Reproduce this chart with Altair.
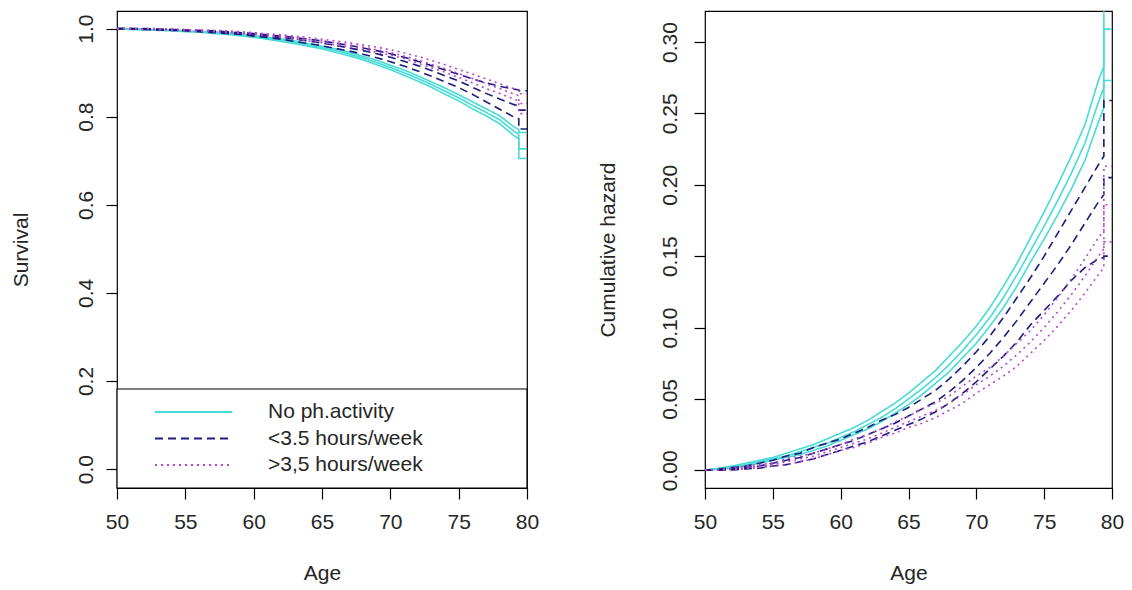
import altair as alt
import pandas as pd

# Age grid (years); 79.4 appears twice so the final jump is drawn as a vertical step
AGES = [50, 51, 52, 53, 54, 55, 56, 57, 58, 59, 60, 61, 62, 63, 64, 65, 66, 67,
        68, 69, 70, 71, 72, 73, 74, 75, 76, 77, 78, 79, 79.4, 79.4, 80]

GROUPS = ["No ph.activity", "<3.5 hours/week", ">3,5 hours/week"]
COLORS = ["#46dcd6", "#1c1c7e", "#bb44cc"]
DASHES = [[1, 0], [8, 5], [2, 4]]

# Survival: estimate with lower / upper confidence limits
surv_none_est = [1.000, 0.999, 0.998, 0.997, 0.996, 0.994, 0.993, 0.991, 0.989, 0.986, 0.982,
                 0.978, 0.974, 0.969, 0.963, 0.957, 0.950, 0.942, 0.933, 0.923, 0.912, 0.900,
                 0.887, 0.873, 0.858, 0.843, 0.826, 0.810, 0.793, 0.768, 0.760, 0.727, 0.727]
surv_none_lo = [1.000, 0.998, 0.997, 0.996, 0.995, 0.993, 0.992, 0.989, 0.987, 0.984, 0.980,
                0.976, 0.971, 0.966, 0.960, 0.954, 0.946, 0.938, 0.929, 0.918, 0.907, 0.894,
                0.881, 0.867, 0.851, 0.836, 0.818, 0.802, 0.784, 0.758, 0.750, 0.705, 0.705]
surv_none_hi = [1.000, 1.000, 0.999, 0.998, 0.997, 0.995, 0.994, 0.993, 0.991, 0.988, 0.984,
                0.980, 0.977, 0.972, 0.966, 0.960, 0.954, 0.946, 0.937, 0.928, 0.917, 0.906,
                0.893, 0.879, 0.865, 0.850, 0.834, 0.818, 0.802, 0.778, 0.771, 0.764, 0.764]

surv_low_est = [1.000, 1.000, 0.999, 0.998, 0.997, 0.996, 0.994, 0.993, 0.991, 0.989, 0.986,
                0.983, 0.980, 0.976, 0.972, 0.967, 0.962, 0.956, 0.950, 0.943, 0.935, 0.926,
                0.916, 0.905, 0.893, 0.881, 0.867, 0.853, 0.840, 0.828, 0.824, 0.815, 0.815]
surv_low_lo = [1.000, 0.999, 0.998, 0.997, 0.996, 0.995, 0.993, 0.991, 0.989, 0.987, 0.983,
               0.980, 0.976, 0.971, 0.966, 0.961, 0.955, 0.949, 0.942, 0.934, 0.925, 0.915,
               0.904, 0.892, 0.879, 0.866, 0.851, 0.834, 0.817, 0.800, 0.795, 0.772, 0.772]
surv_low_hi = [1.000, 1.000, 1.000, 0.999, 0.998, 0.997, 0.996, 0.995, 0.993, 0.991, 0.989,
               0.986, 0.983, 0.980, 0.976, 0.972, 0.967, 0.962, 0.956, 0.950, 0.943, 0.935,
               0.926, 0.916, 0.906, 0.896, 0.886, 0.877, 0.869, 0.863, 0.861, 0.859, 0.859]

surv_high_est = [1.000, 1.000, 0.999, 0.999, 0.998, 0.997, 0.996, 0.995, 0.993, 0.991, 0.989,
                 0.986, 0.983, 0.980, 0.976, 0.972, 0.968, 0.963, 0.958, 0.952, 0.946, 0.938,
                 0.929, 0.919, 0.909, 0.898, 0.887, 0.875, 0.864, 0.852, 0.848, 0.830, 0.830]
surv_high_lo = [1.000, 0.999, 0.998, 0.997, 0.996, 0.995, 0.994, 0.993, 0.991, 0.989, 0.987,
                0.984, 0.980, 0.977, 0.972, 0.968, 0.963, 0.958, 0.953, 0.946, 0.940, 0.932,
                0.922, 0.911, 0.901, 0.889, 0.877, 0.864, 0.853, 0.840, 0.836, 0.807, 0.807]
surv_high_hi = [1.000, 1.000, 1.000, 1.000, 0.999, 0.998, 0.997, 0.996, 0.995, 0.993, 0.991,
                0.988, 0.986, 0.983, 0.980, 0.976, 0.972, 0.968, 0.963, 0.958, 0.952, 0.945,
                0.937, 0.928, 0.918, 0.907, 0.897, 0.886, 0.875, 0.864, 0.860, 0.852, 0.852]

# Cumulative hazard: estimate with lower / upper confidence limits
hz_none_est = [0.000, 0.001, 0.002, 0.004, 0.006, 0.008, 0.010, 0.013, 0.016, 0.019, 0.023,
               0.027, 0.032, 0.037, 0.043, 0.050, 0.057, 0.065, 0.074, 0.084, 0.095, 0.107,
               0.121, 0.137, 0.154, 0.171, 0.189, 0.208, 0.229, 0.258, 0.268, 0.309, 0.309]
hz_none_lo = [0.000, 0.0005, 0.0015, 0.003, 0.005, 0.007, 0.009, 0.011, 0.014, 0.017, 0.021,
              0.025, 0.029, 0.034, 0.040, 0.046, 0.053, 0.061, 0.069, 0.079, 0.089, 0.101,
              0.114, 0.129, 0.146, 0.162, 0.179, 0.197, 0.217, 0.244, 0.254, 0.273, 0.273]
hz_none_hi = [0.000, 0.0015, 0.003, 0.005, 0.007, 0.009, 0.012, 0.015, 0.018, 0.022, 0.026,
              0.030, 0.035, 0.041, 0.047, 0.054, 0.062, 0.070, 0.080, 0.090, 0.101, 0.114,
              0.129, 0.145, 0.163, 0.181, 0.200, 0.220, 0.242, 0.273, 0.283, 0.345, 0.345]

hz_low_est = [0.000, 0.0003, 0.001, 0.002, 0.003, 0.005, 0.007, 0.009, 0.012, 0.015, 0.018,
              0.021, 0.025, 0.029, 0.033, 0.038, 0.043, 0.048, 0.055, 0.063, 0.072, 0.082,
              0.093, 0.105, 0.118, 0.131, 0.144, 0.158, 0.173, 0.188, 0.193, 0.205, 0.205]
hz_low_lo = [0.000, 0.000, 0.0003, 0.001, 0.0015, 0.003, 0.004, 0.006, 0.008, 0.011, 0.014,
             0.017, 0.020, 0.024, 0.028, 0.032, 0.036, 0.041, 0.047, 0.054, 0.062, 0.071,
             0.080, 0.090, 0.102, 0.112, 0.122, 0.133, 0.142, 0.148, 0.149, 0.150, 0.150]
hz_low_hi = [0.000, 0.0008, 0.002, 0.003, 0.005, 0.007, 0.010, 0.012, 0.016, 0.019, 0.022,
             0.026, 0.030, 0.035, 0.039, 0.044, 0.050, 0.056, 0.064, 0.073, 0.083, 0.094,
             0.107, 0.121, 0.135, 0.150, 0.166, 0.182, 0.198, 0.214, 0.220, 0.259, 0.259]

hz_high_est = [0.000, 0.0003, 0.001, 0.002, 0.003, 0.004, 0.006, 0.008, 0.010, 0.013, 0.016,
               0.019, 0.022, 0.026, 0.030, 0.034, 0.038, 0.042, 0.047, 0.053, 0.060, 0.066,
               0.073, 0.081, 0.090, 0.100, 0.111, 0.123, 0.136, 0.150, 0.155, 0.186, 0.186]
hz_high_lo = [0.000, 0.0001, 0.0005, 0.001, 0.002, 0.003, 0.004, 0.006, 0.008, 0.011, 0.014,
              0.016, 0.019, 0.023, 0.026, 0.030, 0.033, 0.037, 0.042, 0.047, 0.054, 0.060,
              0.066, 0.073, 0.082, 0.091, 0.101, 0.112, 0.124, 0.137, 0.142, 0.160, 0.160]
hz_high_hi = [0.000, 0.0006, 0.0015, 0.003, 0.004, 0.005, 0.008, 0.010, 0.012, 0.015, 0.018,
              0.022, 0.025, 0.029, 0.034, 0.038, 0.043, 0.047, 0.052, 0.059, 0.066, 0.072,
              0.080, 0.089, 0.098, 0.109, 0.121, 0.134, 0.148, 0.163, 0.168, 0.213, 0.213]

FONT = "Liberation Sans"
TEXT = "#262626"


def long_table(series_by_group):
    rows = []
    for group, bands in zip(GROUPS, series_by_group):
        for band, values in zip(["est", "lo", "hi"], bands):
            for idx, (age, v) in enumerate(zip(AGES, values)):
                rows.append({"age": age, "value": v, "group": group,
                             "series": f"{group} {band}", "idx": idx})
    return pd.DataFrame(rows)


surv_df = long_table([
    (surv_none_est, surv_none_lo, surv_none_hi),
    (surv_low_est, surv_low_lo, surv_low_hi),
    (surv_high_est, surv_high_lo, surv_high_hi),
])
hz_df = long_table([
    (hz_none_est, hz_none_lo, hz_none_hi),
    (hz_low_est, hz_low_lo, hz_low_hi),
    (hz_high_est, hz_high_lo, hz_high_hi),
])

color_enc = alt.Color("group:N", scale=alt.Scale(domain=GROUPS, range=COLORS), legend=None)
dash_enc = alt.StrokeDash("group:N", scale=alt.Scale(domain=GROUPS, range=DASHES), legend=None)

x_enc = alt.X(
    "age:Q",
    scale=alt.Scale(domain=[50, 80], nice=False, zero=False),
    axis=alt.Axis(values=[50, 55, 60, 65, 70, 75, 80], format="d", title="Age",
                  labelFlush=False, labelOverlap=False),
)

W_LEFT, W_RIGHT, H = 410, 407, 477

surv_lines = alt.Chart(surv_df).mark_line(strokeWidth=1.6, clip=True).encode(
    x=x_enc,
    y=alt.Y("value:Q", scale=alt.Scale(domain=[-0.043, 1.04], nice=False, zero=False),
            axis=alt.Axis(format=".1f", title="Survival", values=[0, 0.2, 0.4, 0.6, 0.8, 1.0],
                          labelAngle=270, labelAlign="center", labelBaseline="bottom",
                          labelPadding=10, titlePadding=44)),
    color=color_enc,
    strokeDash=dash_enc,
    detail="series:N",
    order="idx:Q",
)

# Legend frame across the lower part of the survival panel
legend_box = alt.Chart(pd.DataFrame({"k": [0]})).mark_rect(
    fill="white", stroke="black", strokeWidth=1.2
).encode(x=alt.value(0), x2=alt.value(W_LEFT), y=alt.value(378), y2=alt.value(H))

legend_layers = []
for i, (g, c, d) in enumerate(zip(GROUPS, COLORS, DASHES)):
    ypos = 401 + i * 26.5
    row = pd.DataFrame({"group": [g]})
    legend_layers.append(
        alt.Chart(row).mark_rule(strokeWidth=2, strokeDash=d, color=c).encode(
            x=alt.value(38), x2=alt.value(115), y=alt.value(ypos))
    )
    legend_layers.append(
        alt.Chart(row).mark_text(align="left", baseline="middle", font=FONT,
                                 fontSize=21, color=TEXT).encode(
            x=alt.value(151), y=alt.value(ypos), text="group:N")
    )

left = alt.layer(surv_lines, legend_box, *legend_layers).properties(width=W_LEFT, height=H)

hz_lines = alt.Chart(hz_df).mark_line(strokeWidth=1.6, clip=True).encode(
    x=x_enc,
    y=alt.Y("value:Q", scale=alt.Scale(domain=[-0.0124, 0.3217], nice=False, zero=False),
            axis=alt.Axis(format=".2f", title="Cumulative hazard",
                          values=[0, 0.05, 0.1, 0.15, 0.2, 0.25, 0.3],
                          labelAngle=270, labelAlign="center", labelBaseline="bottom",
                          labelPadding=14, titlePadding=41)),
    color=color_enc,
    strokeDash=dash_enc,
    detail="series:N",
    order="idx:Q",
)

right = alt.layer(hz_lines).properties(width=W_RIGHT, height=H)

chart = alt.hconcat(left, right, spacing=56).properties(
    padding={"left": 9, "top": 10, "right": 0, "bottom": 0},
    background="white",
).configure_view(
    stroke="black", strokeWidth=1.2
).configure_axis(
    domain=False,
    grid=False,
    ticks=True,
    tickSize=11,
    tickColor="black",
    tickWidth=1.2,
    labelFont=FONT,
    labelFontSize=21,
    labelColor=TEXT,
    titleFont=FONT,
    titleFontSize=21,
    titleFontWeight="normal",
    titleColor=TEXT,
).configure_axisX(
    labelPadding=12, titlePadding=30
)

chart.save("out.html", embed_options={"renderer": "svg", "actions": False})
